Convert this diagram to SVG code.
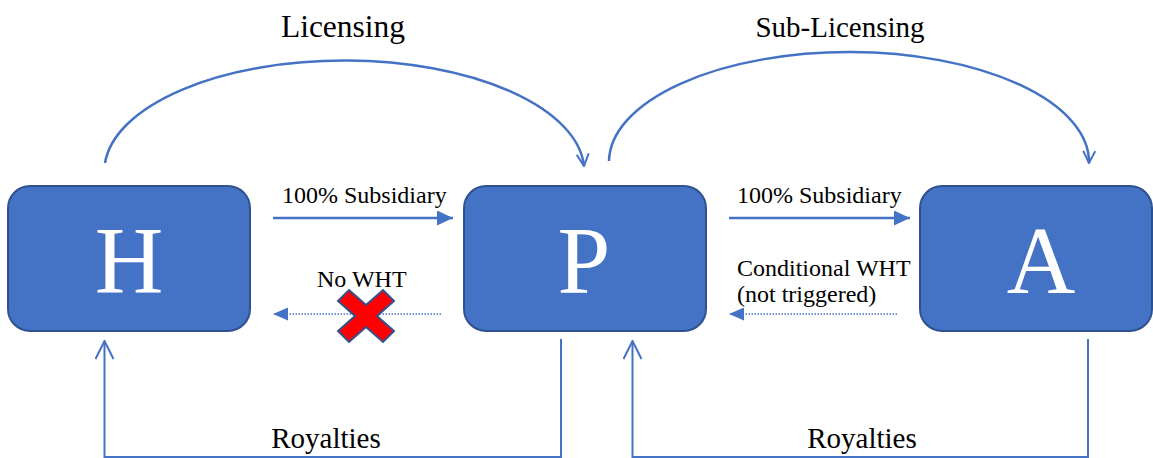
<svg xmlns="http://www.w3.org/2000/svg" width="1153" height="458" viewBox="0 0 1153 458">
  <defs>
    <style>
      .box { fill: #4472C4; stroke: #2F528F; stroke-width: 2; }
      .letter { font-family: "Liberation Serif", serif; font-size: 95px; fill: #FFFFFF; text-anchor: middle; }
      .lbl { font-family: "Liberation Serif", serif; font-size: 24px; fill: #000000; }
      .big { font-family: "Liberation Serif", serif; fill: #000000; text-anchor: middle; }
      .arc { fill: none; stroke: #4472C4; stroke-width: 2.5; }
      .solid { fill: none; stroke: #4472C4; stroke-width: 2.5; }
      .dot { fill: none; stroke: #4472C4; stroke-width: 1.5; stroke-dasharray: 1.5 1.5; }
      .roy { fill: none; stroke: #4472C4; stroke-width: 2; }
    </style>
    <marker id="open" viewBox="0 0 14 14" refX="13" refY="7" markerWidth="14" markerHeight="14" markerUnits="userSpaceOnUse" orient="auto">
      <path d="M1,1 L13,7 L1,13" fill="none" stroke="#4472C4" stroke-width="2"/>
    </marker>
    <marker id="openBig" viewBox="0 0 20 20" refX="19" refY="10" markerWidth="20" markerHeight="20" markerUnits="userSpaceOnUse" orient="auto">
      <path d="M1,1 L19,10 L1,19" fill="none" stroke="#4472C4" stroke-width="2"/>
    </marker>
    <marker id="tri" viewBox="0 0 16 15" refX="16" refY="7.5" markerWidth="16" markerHeight="15" markerUnits="userSpaceOnUse" orient="auto">
      <path d="M0,0 L16,7.5 L0,15 Z" fill="#4472C4"/>
    </marker>
    <marker id="triS" viewBox="0 0 15 13" refX="15" refY="6.5" markerWidth="15" markerHeight="13" markerUnits="userSpaceOnUse" orient="auto">
      <path d="M0,0 L15,6.5 L0,13 Z" fill="#4472C4"/>
    </marker>
  </defs>

  <rect width="1153" height="458" fill="#FFFFFF"/>

  <g id="connectors">
    <path class="arc" d="M105,163 A240,111 0 0 1 584,166" marker-end="url(#open)"/>
    <path class="arc" d="M609,161 A240,110 0 0 1 1089,163" marker-end="url(#open)"/>
    <line class="solid" x1="273" y1="218" x2="453" y2="218" marker-end="url(#tri)"/>
    <line class="solid" x1="729" y1="218" x2="910" y2="218" marker-end="url(#tri)"/>
    <line class="dot" x1="441" y1="314" x2="273" y2="314" marker-end="url(#triS)"/>
    <line class="dot" x1="897" y1="314" x2="729" y2="314" marker-end="url(#triS)"/>
    <polyline class="roy" points="561,339 561,457 104.5,457 104.5,341" marker-end="url(#openBig)"/>
    <polyline class="roy" points="1088,339 1088,457 632.5,457 632.5,341" marker-end="url(#openBig)"/>
  </g>

  <g id="node-H">
    <rect class="box" x="8" y="186" width="242" height="145" rx="22" ry="22"/>
    <text class="letter" x="129" y="293">H</text>
  </g>
  <g id="node-P">
    <rect class="box" x="464" y="186" width="242" height="145" rx="22" ry="22"/>
    <text class="letter" x="584" y="293">P</text>
  </g>
  <g id="node-A">
    <rect class="box" x="920" y="186" width="232" height="145" rx="22" ry="22"/>
    <text class="letter" x="1041" y="293">A</text>
  </g>

  <g id="labels" font-family="Liberation Serif, serif">
    <text class="big" x="343" y="37" font-size="31.5">Licensing</text>
    <text class="big" x="840" y="37" font-size="29">Sub-Licensing</text>
    <text class="lbl" x="282" y="203">100% Subsidiary</text>
    <text class="lbl" x="737" y="203">100% Subsidiary</text>
    <text class="lbl" x="317" y="287">No WHT</text>
    <text class="lbl" x="737" y="276">Conditional WHT</text>
    <text class="lbl" x="737" y="302">(not triggered)</text>
    <text class="big" x="326" y="448" font-size="29">Royalties</text>
    <text class="big" x="862" y="448" font-size="29">Royalties</text>
  </g>

  <g id="cross">
    <polygon points="349,290 366,305 383,290 394,301 377,316 394,331 383,342 366,327 349,342 338,331 355,316 338,301" fill="#FF0000" stroke="#2F528F" stroke-width="2" stroke-linejoin="miter"/>
  </g>
</svg>
